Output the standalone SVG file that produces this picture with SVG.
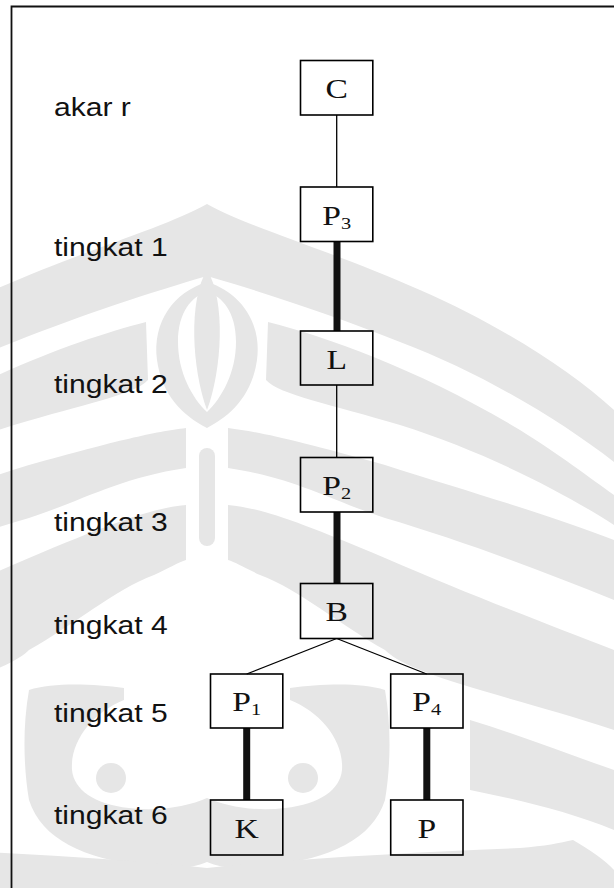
<svg xmlns="http://www.w3.org/2000/svg" width="614" height="888" viewBox="0 0 614 888">
  <style>
    .box { fill: none; stroke: #000; stroke-width: 1.6; }
    .thin { stroke: #000; stroke-width: 1.3; fill: none; }
    .thick { stroke: #111; stroke-width: 7; fill: none; }
    .lvl { font-family: "Liberation Sans", Arial, sans-serif; font-size: 25.5px; fill: #111; }
    .nm { font-family: "Liberation Serif", "Times New Roman", serif; font-size: 28px; fill: #111; text-anchor: middle; }
    .sub { font-size: 17px; }
    .wm { fill: #e6e6e6; }
  </style>
  <defs>
    <!-- one half of the background emblem; mirrored about x = 207 -->
    <g id="emblem-half">
      <!-- crown arch -->
      <path class="wm" d="M207 204 C250 228 330 250 420 290 C500 325 570 370 614 410 L614 462 C560 420 480 372 400 342 C330 314 262 292 207 276 Z"/>
      <!-- petal around the central flame -->
      <path class="wm" d="M207 282 C240 292 262 322 257 360 C252 395 232 415 207 428 L207 412 C222 398 236 372 236 342 C236 312 222 296 207 292 Z"/>
      <!-- shoulder under the arch -->
      <path class="wm" d="M268 322 C330 338 420 370 520 430 C560 455 590 478 614 495 L614 525 C560 490 480 450 400 425 C330 404 280 395 266 380 Z"/>
      <!-- sweeping bands -->
      <path class="wm" d="M228 428 C260 432 295 440 385 465 C470 492 550 515 614 540 L614 600 C540 570 460 540 385 518 C330 500 295 478 228 468 Z"/>
      <path class="wm" d="M228 505 C260 508 295 520 385 558 C470 595 550 625 614 650 L614 730 C540 705 470 690 420 670 C400 662 390 655 385 650 C340 625 300 590 260 575 C245 568 235 562 228 560 Z"/>
      <!-- lower scroll with its eye -->
      <path class="wm" d="M290 688 C320 684 360 682 385 690 C392 730 390 770 385 800 C372 840 330 858 270 866 C240 870 220 868 207 862 L207 798 C225 806 255 812 285 808 C320 804 340 790 342 770 C344 740 320 712 290 700 Z"/>
      <circle class="wm" cx="303" cy="778" r="15"/>
      <!-- outer wing -->
      <path class="wm" d="M470 720 C520 735 570 755 614 770 L614 830 C570 812 520 800 470 790 Z"/>
      <!-- base -->
      <path class="wm" d="M207 868 C300 858 420 852 520 848 C545 846 560 843 573 840 C590 850 605 860 614 870 L614 888 L207 888 Z"/>
    </g>
  </defs>
  <rect width="614" height="888" fill="#fff"/>

  <!-- faint background emblem -->
  <g id="emblem">
    <use href="#emblem-half"/>
    <use href="#emblem-half" transform="matrix(-1 0 0 1 414 0)"/>
    <path class="wm" d="M207 270 C188 300 192 370 207 410 C222 370 226 300 207 270 Z"/>
    <rect class="wm" x="199" y="448" width="16" height="98" rx="8"/>
  </g>

  <!-- frame -->
  <path d="M11.5 888 V6.5 H614" fill="none" stroke="#111" stroke-width="1.8"/>

  <!-- level labels -->
  <g id="levels">
    <text class="lvl" transform="matrix(1.18 0 0 1 54 116)">akar r</text>
    <text class="lvl" transform="matrix(1.18 0 0 1 54 256)">tingkat 1</text>
    <text class="lvl" transform="matrix(1.18 0 0 1 54 393)">tingkat 2</text>
    <text class="lvl" transform="matrix(1.18 0 0 1 54 531)">tingkat 3</text>
    <text class="lvl" transform="matrix(1.18 0 0 1 54 634)">tingkat 4</text>
    <text class="lvl" transform="matrix(1.18 0 0 1 54 722)">tingkat 5</text>
    <text class="lvl" transform="matrix(1.18 0 0 1 54 824)">tingkat 6</text>
  </g>

  <!-- connectors -->
  <g id="edges">
    <line class="thin" x1="336.7" y1="115" x2="336.7" y2="187"/>
    <line class="thick" x1="337" y1="241.5" x2="337" y2="331"/>
    <line class="thin" x1="336.7" y1="385" x2="336.7" y2="457.5"/>
    <line class="thick" x1="337" y1="512" x2="337" y2="583.5"/>
    <line class="thin" x1="336.7" y1="638.5" x2="246.7" y2="674"/>
    <line class="thin" x1="336.7" y1="638.5" x2="426.7" y2="674"/>
    <line class="thick" x1="246.7" y1="728" x2="246.7" y2="800"/>
    <line class="thick" x1="426.8" y1="728" x2="426.8" y2="800" stroke="#222"/>
  </g>

  <!-- nodes -->
  <g id="node-C">
    <rect class="box" x="300.5" y="60.5" width="72.3" height="54.5"/>
    <text class="nm" transform="matrix(1.2 0 0 1 336.7 98)">C</text>
  </g>
  <g id="node-P3">
    <rect class="box" x="300.5" y="187" width="72.3" height="54.5"/>
    <text class="nm" transform="matrix(1.2 0 0 1 336.7 224.5)">P<tspan class="sub" dy="4">3</tspan></text>
  </g>
  <g id="node-L">
    <rect class="box" x="300.5" y="331" width="72.3" height="54"/>
    <text class="nm" transform="matrix(1.2 0 0 1 336.7 368.5)">L</text>
  </g>
  <g id="node-P2">
    <rect class="box" x="300.5" y="457.5" width="72.3" height="54.5"/>
    <text class="nm" transform="matrix(1.2 0 0 1 336.7 495)">P<tspan class="sub" dy="4">2</tspan></text>
  </g>
  <g id="node-B">
    <rect class="box" x="300.5" y="583.5" width="72.3" height="55"/>
    <text class="nm" transform="matrix(1.2 0 0 1 336.7 621)">B</text>
  </g>
  <g id="node-P1">
    <rect class="box" x="210.5" y="674" width="72.3" height="54"/>
    <text class="nm" transform="matrix(1.2 0 0 1 246.7 711.3)">P<tspan class="sub" dy="4">1</tspan></text>
  </g>
  <g id="node-P4">
    <rect class="box" x="390.7" y="674" width="72.3" height="54"/>
    <text class="nm" transform="matrix(1.2 0 0 1 426.8 711.3)">P<tspan class="sub" dy="4">4</tspan></text>
  </g>
  <g id="node-K">
    <rect class="box" x="210.5" y="800" width="72.3" height="55"/>
    <text class="nm" transform="matrix(1.2 0 0 1 246.7 837.5)">K</text>
  </g>
  <g id="node-P">
    <rect class="box" x="390.7" y="800" width="72.3" height="55"/>
    <text class="nm" transform="matrix(1.2 0 0 1 426.8 837.5)">P</text>
  </g>
</svg>
